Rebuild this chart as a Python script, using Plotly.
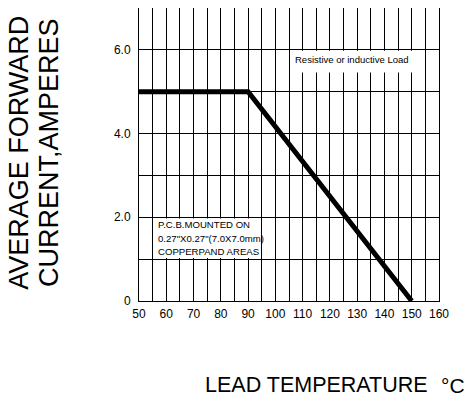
import plotly.graph_objects as go

# Data
temp_c = [50, 90, 150]
current_a = [5.0, 5.0, 0.0]

x_tickvals = [50, 55, 60, 65, 70, 75, 80, 85, 90, 95, 100, 105, 110, 115, 120, 125,
              130, 135, 140, 145, 150, 155, 160]
x_ticktext = ["50", "", "60", "", "70", "", "80", "", "90", "", "100", "", "110", "",
              "120", "", "130", "", "140", "", "150", "", "160"]
y_tickvals = [0, 1, 2, 3, 4, 5, 6, 7]
y_ticktext = ["0", "", "2.0", "", "4.0", "", "6.0", ""]

FONT = "Liberation Sans, Arial, sans-serif"

fig = go.Figure()
fig.add_trace(go.Scatter(x=temp_c, y=current_a, mode="lines",
                         line=dict(color="black", width=5), hoverinfo="skip",
                         showlegend=False))

# white boxes hiding the grid behind the notes
fig.add_shape(type="rect", xref="x", yref="y", x0=105.4, x1=154.6, y0=5.46, y1=5.98,
              fillcolor="white", line=dict(width=0), layer="between")
fig.add_shape(type="rect", xref="x", yref="y", x0=55.4, x1=94.6, y0=1.03, y1=1.97,
              fillcolor="white", line=dict(width=0), layer="between")

fig.add_annotation(x=106.4, y=5.78, xref="x", yref="y", text="Resistive or inductive Load",
                   showarrow=False, xanchor="left", yanchor="middle",
                   font=dict(family=FONT, size=9.5, color="black"))
pcb_lines = ["P.C.B.MOUNTED ON", "0.27\"X0.27\"(7.0X7.0mm)", "COPPERPAND AREAS"]
pcb_y = [1.83, 1.50, 1.18]
for t, yy in zip(pcb_lines, pcb_y):
    fig.add_annotation(x=56.3, y=yy, xref="x", yref="y", text=t, showarrow=False,
                       xanchor="left", yanchor="middle",
                       font=dict(family=FONT, size=9.6, color="black"))

# axis titles
fig.add_annotation(x=-0.401, y=0.505, xref="paper", yref="paper", text="AVERAGE FORWARD",
                   textangle=-90, showarrow=False, xanchor="center", yanchor="middle",
                   borderpad=0, font=dict(family=FONT, size=27, color="black"))
fig.add_annotation(x=-0.300, y=0.505, xref="paper", yref="paper", text="CURRENT,AMPERES",
                   textangle=-90, showarrow=False, xanchor="center", yanchor="middle",
                   borderpad=0, font=dict(family=FONT, size=27, color="black"))
fig.add_annotation(x=0.59, y=-0.287, xref="paper", yref="paper", text="LEAD TEMPERATURE",
                   showarrow=False, xanchor="center", yanchor="middle",
                   font=dict(family=FONT, size=21.5, color="black"))
fig.add_annotation(x=1.048, y=-0.287, xref="paper", yref="paper", text="°C",
                   showarrow=False, xanchor="center", yanchor="middle",
                   borderpad=0, font=dict(family=FONT, size=21, color="black"))

fig.update_xaxes(range=[50, 160], tickvals=x_tickvals, ticktext=x_ticktext,
                 showgrid=True, gridcolor="black", gridwidth=1,
                 showline=True, linecolor="black", linewidth=1, mirror=True,
                 ticks="", zeroline=False, ticklabelstandoff=2,
                 tickfont=dict(family=FONT, size=12, color="black"))
fig.update_yaxes(range=[0, 7], tickvals=y_tickvals, ticktext=y_ticktext,
                 showgrid=True, gridcolor="black", gridwidth=1,
                 showline=True, linecolor="black", linewidth=1, mirror=True,
                 ticks="", zeroline=False, ticklabelstandoff=5,
                 tickfont=dict(family=FONT, size=12, color="black"))

fig.update_layout(width=464, height=394, margin=dict(l=131, r=33, t=0, b=101),
                  paper_bgcolor="white", plot_bgcolor="white", showlegend=False)

fig.write_html("out.html")
